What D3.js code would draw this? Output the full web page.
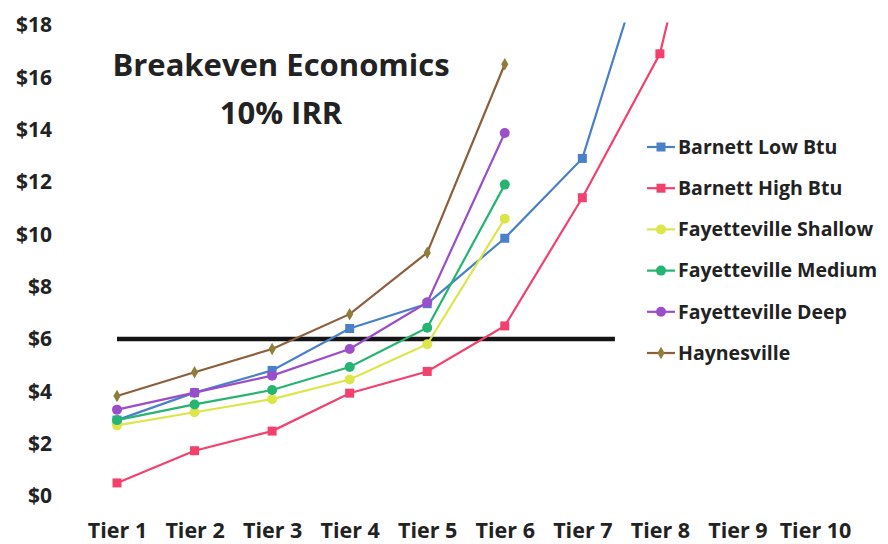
<!DOCTYPE html>
<html>
<head>
<meta charset="utf-8">
<script src="https://cdn.jsdelivr.net/npm/d3@7/dist/d3.min.js"></script>
<style>
  body { margin: 0; background: #fff; }
  text { font-family: "Open Sans", Lato, sans-serif; font-weight: bold; fill: #222; }
</style>
</head>
<body>
<div id="chart"></div>
<script>
// data
var tiers = ["Tier 1","Tier 2","Tier 3","Tier 4","Tier 5","Tier 6","Tier 7","Tier 8","Tier 9","Tier 10"]
var yTicks = [0,2,4,6,8,10,12,14,16,18]
var seriesNames = ["Barnett Low Btu","Barnett High Btu","Fayetteville Shallow","Fayetteville Medium","Fayetteville Deep","Haynesville"]
var barnettLow = [2.9, 3.95, 4.8, 6.4, 7.35, 9.85, 12.9, 22.4]
var barnettHigh = [0.5, 1.73, 2.48, 3.93, 4.76, 6.5, 11.4, 16.9, 29.2]
var fayShallow = [2.7, 3.2, 3.7, 4.45, 5.8, 10.6]
var fayMedium = [2.9, 3.5, 4.05, 4.93, 6.43, 11.9]
var fayDeep = [3.3, 3.95, 4.6, 5.62, 7.4, 13.87]
var haynesville = [3.82, 4.73, 5.62, 6.95, 9.3, 16.5]
var breakeven = 6
var breakevenSpan = [0, 6.42]   // tier index where the black line starts / stops

var allSeries = [barnettLow, barnettHigh, fayShallow, fayMedium, fayDeep, haynesville]
var colors = ['#4a80c8','#f2416d','#dce64a','#25b472','#9b4dca','#8c5e3c']
var markerCol = ['#4a80c8','#f2416d','#dce64a','#25b472','#9b4dca','#8f7d3a']
var shapes = ['square','square','circle','circle','circle','diamond']

var width = 888, height = 544

var svg = d3.select("#chart").append("svg")
  .attr("width", width)
  .attr("height", height)

var x = d3.scalePoint().domain(tiers).range([117, 815])
var xi = d3.scaleLinear().domain([0, tiers.length - 1]).range([117, 815])
var y = d3.scaleLinear().domain([0, 18]).range([496, 25])

// Y labels
var yAxis = svg.append("g")
  .attr("transform", "translate(55,0)")
  .call(d3.axisLeft(y).tickValues(yTicks).tickSize(0).tickPadding(3)
    .tickFormat(function(d){ return "$" + d }))
yAxis.select(".domain").remove()
yAxis.selectAll("text").style("font-size", "21px").style("font-family", "'Open Sans', sans-serif").style("font-weight", "bold").attr("fill", "#222")

// X labels
var xAxis = svg.append("g")
  .attr("transform", "translate(0,520)")
  .call(d3.axisBottom(x).tickSize(0).tickPadding(3))
xAxis.select(".domain").remove()
xAxis.selectAll("text").style("font-size", "21.5px").style("font-family", "'Open Sans', sans-serif").style("font-weight", "bold").attr("fill", "#222")

svg.append("clipPath").attr("id", "clip")
  .append("rect").attr("x", 0).attr("y", y(18.1)).attr("width", width).attr("height", 520)

var plot = svg.append("g").attr("clip-path", "url(#clip)")

// breakeven line
plot.append("line")
  .attr("x1", xi(breakevenSpan[0])).attr("x2", xi(breakevenSpan[1]))
  .attr("y1", y(breakeven)).attr("y2", y(breakeven))
  .attr("stroke", "#151515").attr("stroke-width", 4.5)

var line = d3.line()
  .x(function(d,i){ return x(tiers[i]) })
  .y(function(d){ return y(d) })

function marker(g, shape, col, cx, cy){
  if(shape == 'square'){
    g.append("rect").attr("x", cx-4.5).attr("y", cy-4.5).attr("width", 9).attr("height", 9).attr("fill", col)
  } else if(shape == 'circle'){
    g.append("circle").attr("cx", cx).attr("cy", cy).attr("r", 5).attr("fill", col)
  } else {
    g.append("path").attr("d", d3.symbol().type(d3.symbolDiamond).size(45)())
      .attr("transform", "translate(" + cx + "," + cy + ")").attr("fill", col)
  }
}

allSeries.forEach(function(s, k){
  plot.append("path")
    .datum(s)
    .attr("fill", "none")
    .attr("stroke", colors[k])
    .attr("stroke-width", 2.2)
    .attr("d", line)
  s.forEach(function(v, i){
    marker(plot, shapes[k], markerCol[k], x(tiers[i]), y(v))
  })
})

// title
svg.append("text").attr("x", 281).attr("y", 76).attr("text-anchor", "middle")
  .style("font-size", "31px").text("Breakeven Economics")
svg.append("text").attr("x", 281).attr("y", 124).attr("text-anchor", "middle")
  .style("font-size", "31px").text("10% IRR")

// legend
var legend = svg.append("g")
seriesNames.forEach(function(name, k){
  var ly = 147 + k * 41.2
  legend.append("line").attr("x1", 647).attr("x2", 675).attr("y1", ly).attr("y2", ly)
    .attr("stroke", colors[k]).attr("stroke-width", 2.2)
  marker(legend, shapes[k], markerCol[k], 661, ly)
  legend.append("text").attr("x", 678).attr("y", ly).attr("dy", "0.35em")
    .style("font-size", "19.5px").text(name)
})
</script>
</body>
</html>
